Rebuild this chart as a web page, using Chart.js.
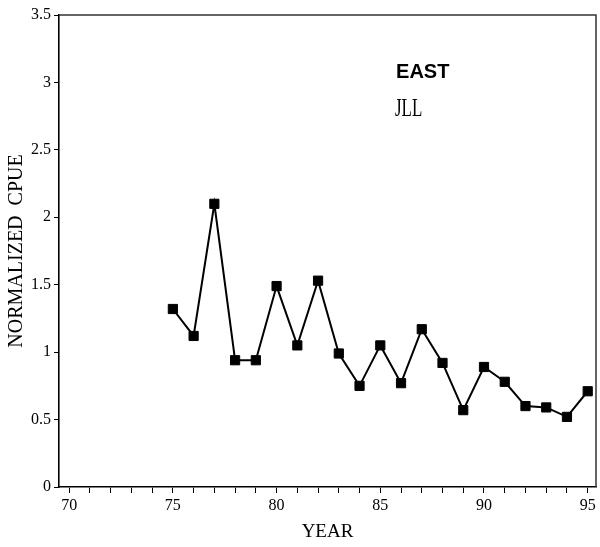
<!DOCTYPE html>
<html>
<head>
<meta charset="utf-8">
<script src="https://cdn.jsdelivr.net/npm/chart.js@4"></script>
<style>
  html, body { margin: 0; padding: 0; background: #fff; }
  canvas { display: block; }
</style>
</head>
<body>
<canvas id="cpueChart" width="600" height="547"></canvas>
<script>
// normalized CPUE by year, east region
const years = [75, 76, 77, 78, 79, 80, 81, 82, 83, 84, 85, 86, 87, 88, 89, 90, 91, 92, 93, 94, 95];
const cpue = [1.32, 1.12, 2.10, 0.94, 0.94, 1.49, 1.05, 1.53, 0.99, 0.75, 1.05, 0.77, 1.17, 0.92, 0.57, 0.89, 0.78, 0.60, 0.59, 0.52, 0.71];
const yearTicks = [70, 71, 72, 73, 74, 75, 76, 77, 78, 79, 80, 81, 82, 83, 84, 85, 86, 87, 88, 89, 90, 91, 92, 93, 94, 95];
const yTicks = [0, 0.5, 1, 1.5, 2, 2.5, 3, 3.5];

const serif = '"Liberation Serif", "Times New Roman", serif';

// top and right sides of the plot box
const frame = {
  id: 'frame',
  afterDraw(chart) {
    const { ctx, chartArea: a } = chart;
    ctx.save();
    ctx.strokeStyle = '#333';
    ctx.lineWidth = 1.5;
    ctx.beginPath();
    ctx.moveTo(a.left, a.top);
    ctx.lineTo(a.right, a.top);
    ctx.lineTo(a.right, a.bottom);
    ctx.stroke();
    ctx.restore();
  }
};

// region / author labels inside the plot
const notes = {
  id: 'notes',
  afterDraw(chart) {
    const { ctx, scales: { x, y } } = chart;
    ctx.save();
    ctx.fillStyle = '#000';
    ctx.textBaseline = 'middle';
    ctx.textAlign = 'left';
    ctx.font = 'bold 20px "Liberation Sans", Arial, sans-serif';
    ctx.fillText('EAST', x.getPixelForValue(85.76), y.getPixelForValue(3.077));
    // narrow serif for the initials
    ctx.translate(x.getPixelForValue(85.71), y.getPixelForValue(2.80));
    ctx.scale(0.65, 1);
    ctx.font = '26px ' + serif;
    ctx.fillText('JLL', 0, 0);
    ctx.restore();
  }
};

new Chart(document.getElementById('cpueChart'), {
  type: 'scatter',
  data: {
    datasets: [{
      data: years.map((yr, i) => ({ x: yr, y: cpue[i] })),
      showLine: true,
      borderColor: '#000',
      borderWidth: 2,
      backgroundColor: '#000',
      pointStyle: 'rect',
      pointRadius: 6.5,
      pointHoverRadius: 6.5,
      pointBorderWidth: 1,
      pointBorderColor: '#000',
      tension: 0
    }]
  },
  options: {
    responsive: false,
    animation: false,
    layout: { autoPadding: false, padding: { top: 15, right: 4, left: 0, bottom: 0 } },
    plugins: { legend: { display: false }, tooltip: { enabled: false } },
    scales: {
      x: {
        type: 'linear',
        min: 69.51,
        max: 95.4,
        afterBuildTicks(scale) { scale.ticks = yearTicks.map(v => ({ value: v })); },
        afterFit(scale) { scale.height = 60; },
        grid: { display: true, drawOnChartArea: false, drawTicks: true, tickLength: 6, color: '#000', lineWidth: 1 },
        border: { display: true, color: '#000', width: 1.6 },
        ticks: {
          autoSkip: false,
          maxRotation: 0,
          padding: 3,
          color: '#000',
          font: { family: serif, size: 16 },
          callback: v => (v % 5 === 0 ? String(v) : '')
        },
        title: {
          display: true,
          text: 'YEAR',
          color: '#000',
          font: { family: serif, size: 19 },
          padding: { top: 0, bottom: 4 }
        }
      },
      y: {
        min: 0,
        max: 3.5,
        afterBuildTicks(scale) { scale.ticks = yTicks.map(v => ({ value: v })); },
        afterFit(scale) { scale.width = 59; },
        grid: { display: true, drawOnChartArea: false, drawTicks: true, tickLength: 5, color: '#000', lineWidth: 1 },
        border: { display: true, color: '#000', width: 1.6 },
        ticks: {
          padding: 3,
          color: '#000',
          font: { family: serif, size: 16 },
          callback: v => String(v)
        },
        title: {
          display: true,
          text: 'NORMALIZED  CPUE',
          color: '#000',
          font: { family: serif, size: 20 },
          padding: { top: 5, bottom: 0 }
        }
      }
    }
  },
  plugins: [frame, notes]
});
</script>
</body>
</html>
